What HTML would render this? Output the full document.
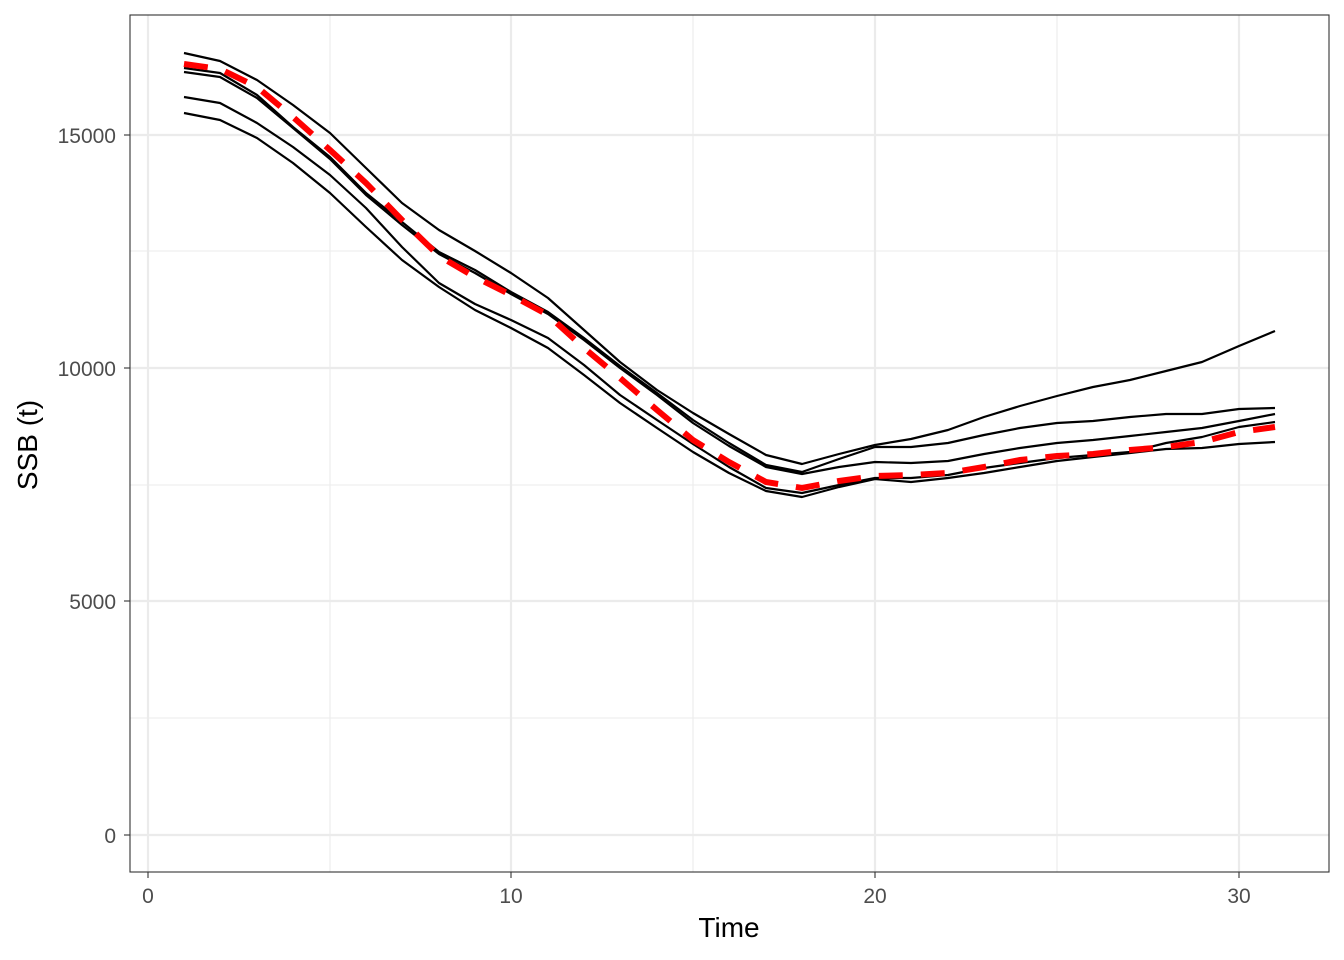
<!DOCTYPE html>
<html><head><style>body{margin:0;background:#fff}svg{display:block}</style></head><body>
<svg width="1344" height="960" xmlns="http://www.w3.org/2000/svg" font-family="Liberation Sans, sans-serif">
<rect width="1344" height="960" fill="#fff"/>
<g stroke="#ebebeb" stroke-width="1.1">
<line x1="330" y1="15" x2="330" y2="872"/><line x1="693" y1="15" x2="693" y2="872"/><line x1="1057" y1="15" x2="1057" y2="872"/>
<line x1="130" y1="718" x2="1329" y2="718"/><line x1="130" y1="485" x2="1329" y2="485"/><line x1="130" y1="251" x2="1329" y2="251"/>
</g>
<g stroke="#ebebeb" stroke-width="2.2">
<line x1="148" y1="15" x2="148" y2="872"/><line x1="511" y1="15" x2="511" y2="872"/><line x1="875" y1="15" x2="875" y2="872"/><line x1="1239" y1="15" x2="1239" y2="872"/>
<line x1="130" y1="835" x2="1329" y2="835"/><line x1="130" y1="601" x2="1329" y2="601"/><line x1="130" y1="368" x2="1329" y2="368"/><line x1="130" y1="135" x2="1329" y2="135"/>
</g>
<g fill="none" stroke="#000" stroke-width="2.2" stroke-linejoin="round">
<polyline points="184,53 220,61 257,80 293,105 330,133 366,168 402,203 439,230 475,251 511,273 548,298 584,330 620,362 657,390 693,413 729,434 766,455 802,464 839,454 875,445 911,439 948,430 984,417 1020,406 1057,396 1093,387 1130,380 1166,371 1202,362 1239,346 1275,331"/>
<polyline points="184,68 220,73 257,95 293,127 330,157 366,193 402,222 439,252 475,270 511,292 548,312 584,338 620,366 657,393 693,420 729,443 766,465 802,472 839,459 875,447 911,447 948,443 984,435 1020,428 1057,423 1093,421 1130,417 1166,414 1202,414 1239,409 1275,408"/>
<polyline points="184,72 220,77 257,98 293,128 330,159 366,195 402,225 439,254 475,273 511,294 548,314 584,340 620,368 657,395 693,423 729,446 766,467 802,474 839,467 875,462 911,463 948,461 984,454 1020,448 1057,443 1093,440 1130,436 1166,432 1202,428 1239,421 1275,414"/>
<polyline points="184,97 220,103 257,123 293,147 330,175 366,208 402,247 439,283 475,304 511,320 548,338 584,365 620,395 657,420 693,444 729,467 766,488 802,493 839,485 875,478 911,478 948,475 984,468 1020,463 1057,458 1093,455 1130,452 1166,443 1202,437 1239,427 1275,422"/>
<polyline points="184,113 220,120 257,138 293,163 330,193 366,227 402,260 439,287 475,310 511,328 548,348 584,375 620,403 657,428 693,452 729,473 766,491 802,497 839,487 875,479 911,482 948,478 984,473 1020,467 1057,461 1093,457 1130,453 1166,449 1202,448 1239,444 1275,442"/>
</g>
<polyline fill="none" stroke="#ff0000" stroke-width="6" stroke-dasharray="24,18" points="184,64 220,69 257,87 293,117 330,150 366,183 402,220 439,256 475,277 511,295 548,315 584,348 620,378 657,410 693,440 729,462 766,482 802,488 839,481 875,476 911,475 948,473 984,467 1020,460 1057,456 1093,454 1130,450 1166,447 1202,442 1239,432 1275,427"/>
<rect x="130" y="15" width="1199" height="857" fill="none" stroke="#333" stroke-width="1.1"/>
<g stroke="#333" stroke-width="1.1">
<line x1="148" y1="872" x2="148" y2="878"/><line x1="511" y1="872" x2="511" y2="878"/><line x1="875" y1="872" x2="875" y2="878"/><line x1="1239" y1="872" x2="1239" y2="878"/>
<line x1="124" y1="835" x2="130" y2="835"/><line x1="124" y1="601" x2="130" y2="601"/><line x1="124" y1="368" x2="130" y2="368"/><line x1="124" y1="135" x2="130" y2="135"/>
</g>
<g fill="#4d4d4d" font-size="21">
<g text-anchor="middle"><text x="148" y="903">0</text><text x="511" y="903">10</text><text x="875" y="903">20</text><text x="1239" y="903">30</text></g>
<g text-anchor="end"><text x="116" y="843">0</text><text x="116" y="609">5000</text><text x="116" y="376">10000</text><text x="116" y="143">15000</text></g>
</g>
<text x="729" y="937" font-size="28" text-anchor="middle">Time</text>
<text transform="translate(37,445) rotate(-90)" font-size="28" text-anchor="middle">SSB (t)</text>
</svg>
</body></html>
